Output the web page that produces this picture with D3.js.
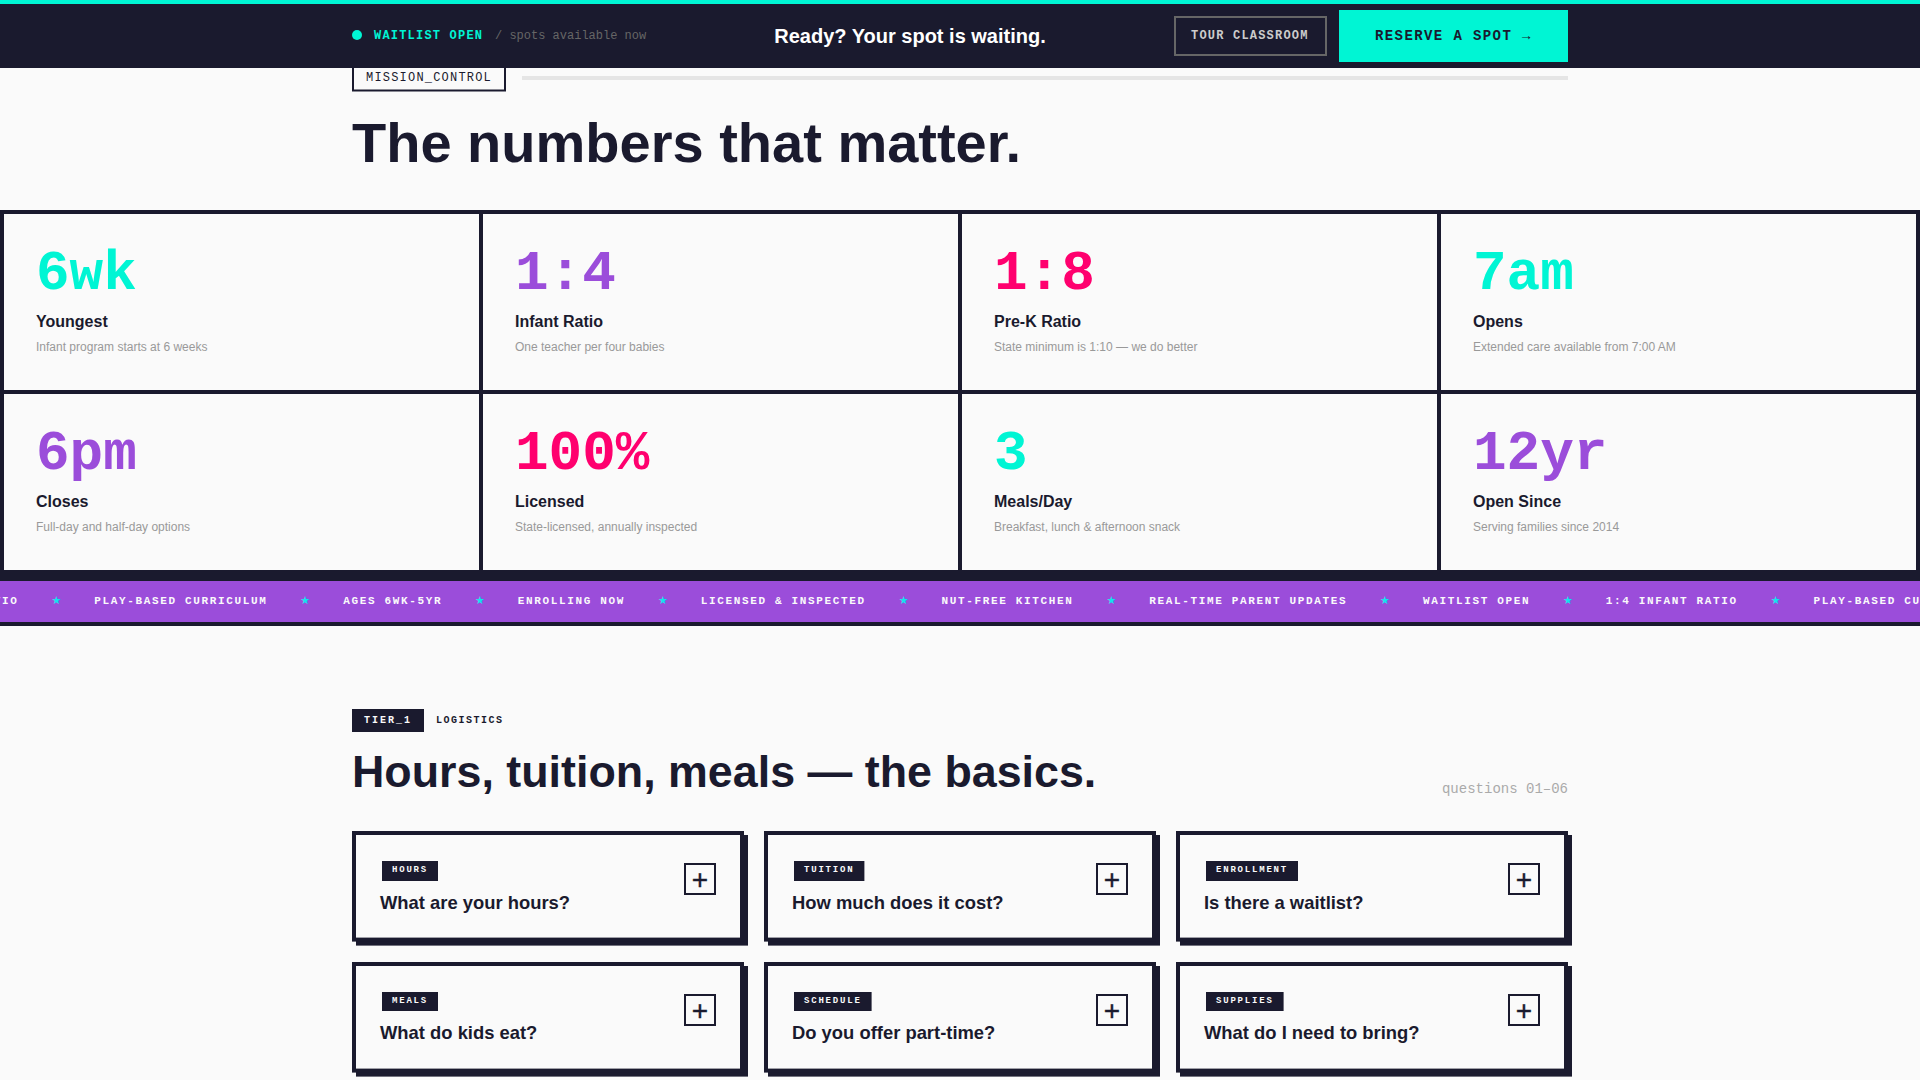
<!DOCTYPE html>
<html>
<head>
<meta charset="utf-8">
<title>The numbers that matter</title>
<script src="https://cdn.jsdelivr.net/npm/d3@7"></script>
<style>
html, body { margin: 0; padding: 0; background: #fafafa; overflow: hidden; }
svg { display: block; }
.sans { font-family: "Liberation Sans", Arial, sans-serif; }
.mono { font-family: "Liberation Mono", "Courier New", monospace; }
.star { font-family: "DejaVu Sans", sans-serif; }
</style>
</head>
<body>
<script>
// Stat grid
var statValues = ["6wk", "1:4", "1:8", "7am", "6pm", "100%", "3", "12yr"];
var statLabels = ["Youngest", "Infant Ratio", "Pre-K Ratio", "Opens", "Closes", "Licensed", "Meals/Day", "Open Since"];
var statNotes = [
    "Infant program starts at 6 weeks",
    "One teacher per four babies",
    "State minimum is 1:10 — we do better",
    "Extended care available from 7:00 AM",
    "Full-day and half-day options",
    "State-licensed, annually inspected",
    "Breakfast, lunch & afternoon snack",
    "Serving families since 2014"
];

// Ticker
var tickerItems = ["1:4 INFANT RATIO", "PLAY-BASED CURRICULUM", "AGES 6WK-5YR", "ENROLLING NOW", "LICENSED & INSPECTED",
    "NUT-FREE KITCHEN", "REAL-TIME PARENT UPDATES", "WAITLIST OPEN", "1:4 INFANT RATIO", "PLAY-BASED CURRICULUM"];

// FAQ cards
var faqTags = ["HOURS", "TUITION", "ENROLLMENT", "MEALS", "SCHEDULE", "SUPPLIES"];
var faqQuestions = ["What are your hours?", "How much does it cost?", "Is there a waitlist?",
    "What do kids eat?", "Do you offer part-time?", "What do I need to bring?"];

var ink = "#1a1a2e", teal = "#00f5d4", purple = "#9b4dda", pink = "#ff006e", paper = "#fafafa";
var statPalette = [teal, purple, pink];

var svg = d3.select("body").append("svg")
    .attr("width", 1920)
    .attr("height", 1080);

function rect(parent, x, y, w, h, fill) {
    return parent.append("rect").attr("x", x).attr("y", y).attr("width", w).attr("height", h).attr("fill", fill);
}

function label(parent, cls, x, y, size, weight, fill, spacing, str) {
    return parent.append("text")
        .attr("class", cls)
        .attr("x", x)
        .attr("y", y)
        .attr("font-size", size)
        .attr("font-weight", weight)
        .attr("fill", fill)
        .attr("letter-spacing", spacing)
        .text(str);
}

// Section heading (the top of the tag slides under the nav)
rect(svg, 353, 60, 152, 30.5, paper).attr("stroke", ink).attr("stroke-width", 2);
label(svg, "mono", 366, 81, 12, 400, ink, 1.2, "MISSION_CONTROL");
rect(svg, 522, 76, 1046, 4, "#e5e5e5");
label(svg, "sans", 352, 162, 56, 700, ink, 0, "The numbers that matter.");

// Stat grid: dark backing shows through as the borders
rect(svg, 0, 210, 1920, 372, ink);

var col = d3.scaleBand().domain(d3.range(4)).range([4, 1916]).paddingInner(4 / 479);
var row = d3.scaleBand().domain(d3.range(2)).range([214, 570]).paddingInner(4 / 180);

var cell = svg.selectAll(".cell")
    .data(statValues)
    .enter().append("g")
    .attr("class", "cell")
    .attr("transform", (d, i) => "translate(" + col(i % 4) + "," + row(Math.floor(i / 4)) + ")");

cell.append("rect")
    .attr("width", col.bandwidth())
    .attr("height", row.bandwidth())
    .attr("fill", paper);

cell.append("text")
    .attr("class", "mono")
    .attr("x", 32)
    .attr("y", 75)
    .attr("font-size", 56)
    .attr("font-weight", 700)
    .attr("fill", (d, i) => statPalette[i % 3])
    .text(d => d);

cell.append("text")
    .attr("class", "sans")
    .attr("x", 32)
    .attr("y", 113)
    .attr("font-size", 16)
    .attr("font-weight", 700)
    .attr("fill", ink)
    .text((d, i) => statLabels[i]);

cell.append("text")
    .attr("class", "sans")
    .attr("x", 32)
    .attr("y", 137)
    .attr("font-size", 12)
    .attr("fill", "#999999")
    .text((d, i) => statNotes[i]);

// Ticker band
rect(svg, 0, 581, 1920, 41, purple);
rect(svg, 0, 622, 1920, 4, ink);

var charW = 8.25, itemGap = 75.7;
var tickerX = [-113.5].concat(Array.from(d3.cumsum(tickerItems, d => d.length * charW + itemGap), v => v - 113.5));

var ticker = svg.selectAll(".tick-item")
    .data(tickerItems)
    .enter().append("g")
    .attr("class", "tick-item")
    .attr("transform", (d, i) => "translate(" + tickerX[i] + ",604)");

ticker.append("text")
    .attr("class", "mono")
    .attr("font-size", 11)
    .attr("font-weight", 700)
    .attr("letter-spacing", 1.65)
    .attr("fill", paper)
    .text(d => d);

ticker.append("text")
    .attr("class", "star")
    .attr("x", d => d.length * charW + itemGap / 2)
    .attr("text-anchor", "middle")
    .attr("font-size", 11)
    .attr("fill", "#14e2ee")
    .text("★");

// Tier header
rect(svg, 352, 709, 72, 23, ink);
label(svg, "mono", 364, 723, 10, 700, paper, 2, "TIER_1");
label(svg, "mono", 436, 723, 10, 700, ink, 1.5, "LOGISTICS");
label(svg, "sans", 352, 787, 44.8, 700, ink, 0, "Hours, tuition, meals — the basics.");
label(svg, "mono", 1568, 793, 14, 400, "#aaaaaa", 0, "questions 01–06").attr("text-anchor", "end");

// FAQ cards
var cardX = d3.scaleBand().domain(d3.range(3)).range([352, 1568]).paddingInner(20 / 412);
var cardY = d3.scaleBand().domain(d3.range(2)).range([831, 1072.2]).paddingInner(20 / 130.6);

var card = svg.selectAll(".card")
    .data(faqQuestions)
    .enter().append("g")
    .attr("class", "card")
    .attr("transform", (d, i) => "translate(" + cardX(i % 3) + "," + Math.round(cardY(Math.floor(i / 3))) + ")");

card.append("rect")
    .attr("x", 4)
    .attr("y", 4)
    .attr("width", cardX.bandwidth())
    .attr("height", cardY.bandwidth())
    .attr("fill", ink);

card.append("rect")
    .attr("x", 2)
    .attr("y", 2)
    .attr("width", cardX.bandwidth() - 4)
    .attr("height", cardY.bandwidth() - 4)
    .attr("fill", paper)
    .attr("stroke", ink)
    .attr("stroke-width", 4);

card.append("rect")
    .attr("x", 30)
    .attr("y", 30)
    .attr("width", (d, i) => faqTags[i].length * 7.2 + 20)
    .attr("height", (d, i) => i < 3 ? 20 : 19)
    .attr("fill", ink);

card.append("text")
    .attr("class", "mono")
    .attr("x", 40)
    .attr("y", 40.6)
    .attr("font-size", 9)
    .attr("font-weight", 700)
    .attr("letter-spacing", 1.8)
    .attr("fill", paper)
    .text((d, i) => faqTags[i]);

// second row of cards sits on a fractional pixel in the original, so its text lands a bit higher
card.append("text")
    .attr("class", "sans")
    .attr("x", 28)
    .attr("y", (d, i) => i < 3 ? 77.7 : 77.3)
    .attr("font-size", 18.4)
    .attr("font-weight", 700)
    .attr("fill", ink)
    .text(d => d);

card.append("rect")
    .attr("x", 333)
    .attr("y", 33)
    .attr("width", 30)
    .attr("height", 30)
    .attr("fill", "none")
    .attr("stroke", ink)
    .attr("stroke-width", 2);

card.append("text")
    .attr("class", "sans")
    .attr("x", 348)
    .attr("y", 58)
    .attr("text-anchor", "middle")
    .attr("font-size", 28)
    .attr("fill", ink)
    .attr("stroke", ink)
    .attr("stroke-width", 0.4)
    .text("+");

// Sticky nav sits on top of everything
rect(svg, 0, 0, 1920, 68, ink);
rect(svg, 0, 0, 1920, 4, teal);
svg.append("circle").attr("cx", 357).attr("cy", 35).attr("r", 5).attr("fill", teal);
label(svg, "mono", 374, 39, 12, 700, teal, 1.2, "WAITLIST OPEN");
label(svg, "mono", 495, 39, 12, 400, "#666666", 0, "/ spots available now");
label(svg, "sans", 910, 43, 20, 700, "#ffffff", 0, "Ready? Your spot is waiting.").attr("text-anchor", "middle");
rect(svg, 1175, 17, 151, 38, "none").attr("stroke", "#666666").attr("stroke-width", 2);
label(svg, "mono", 1191, 39, 12, 700, "#cccccc", 1.2, "TOUR CLASSROOM");
rect(svg, 1339, 10, 229, 52, teal);
label(svg, "mono", 1375, 40, 14, 700, ink, 1.4, "RESERVE A SPOT →");
</script>
</body>
</html>
